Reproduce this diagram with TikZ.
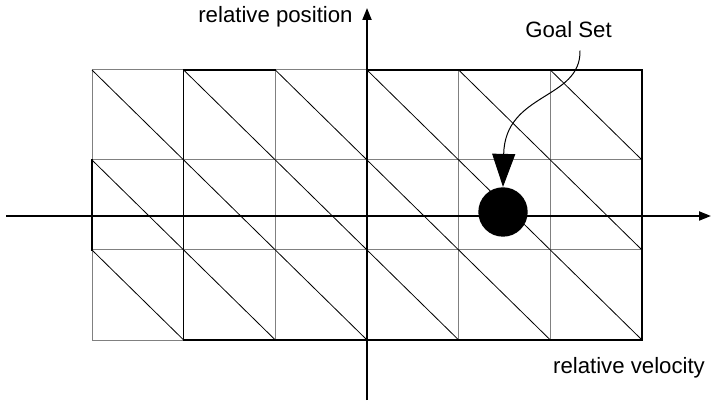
\documentclass[tikz,border=0pt]{standalone}
\usepackage{fontspec}
\setmainfont{Liberation Sans}
\usetikzlibrary{calc,arrows.meta}

\begin{document}
\begin{tikzpicture}[x=0.5pt,y=-0.5pt,
  gridline/.style={draw=black!50, line width=0.5pt},
  diagline/.style={draw=black, line width=0.4pt},
  outline/.style={draw=black, line width=1pt, line cap=rect},
  axis/.style={draw=black, line width=1pt, -{Triangle[length=6pt,width=4.5pt]}},
  axislabel/.style={font=\fontsize{11.1}{13}\selectfont, inner sep=0pt}]

% --- Geometry settings ---
\def\xO{92}       % left edge of the cell grid
\def\yO{70}       % top edge of the cell grid
\def\cellW{91.67} % width of each cell
\def\cellH{90}    % height of each cell

\useasboundingbox (0,0) rectangle (711,405);

% --- Gray cell grid ---
\foreach \i in {0,...,6} {
  \draw[gridline] ({\xO+\i*\cellW},\yO) -- ({\xO+\i*\cellW},{\yO+3*\cellH});
}
\foreach \j in {0,...,3} {
  \draw[gridline] (\xO,{\yO+\j*\cellH}) -- ({\xO+6*\cellW},{\yO+\j*\cellH});
}

% --- Diagonal of each cell ---
\foreach \i in {0,...,5} {
  \foreach \j in {0,...,2} {
    \draw[diagline] ({\xO+\i*\cellW},{\yO+\j*\cellH}) -- ({\xO+(\i+1)*\cellW},{\yO+(\j+1)*\cellH});
  }
}
\draw[diagline] ({\xO+\cellW},\yO) -- ({\xO+\cellW},{\yO+3*\cellH});

% --- Thick boundary pieces ---
\draw[outline] ({\xO+\cellW},\yO) -- ({\xO+2*\cellW},\yO);
\draw[outline] ({\xO+3*\cellW},\yO) -- ({\xO+6*\cellW},\yO)
  -- ({\xO+6*\cellW},{\yO+3*\cellH}) -- ({\xO+\cellW},{\yO+3*\cellH});
\draw[outline] (\xO,{\yO+\cellH}) -- (\xO,{\yO+2*\cellH});

% --- Axes ---
\coordinate (vleft) at (6,216);
\coordinate (vright) at (711,216);
\coordinate (pbottom) at ({\xO+3*\cellW},400);
\coordinate (ptop) at ({\xO+3*\cellW},8);
\draw[axis] (vleft) -- (vright);
\draw[axis] (pbottom) -- (ptop);

\node[axislabel, anchor=base east] (poslabel) at (353,23) {relative position};
\node[axislabel, anchor=base] (vellabel) at (629,373) {relative velocity};

% --- Goal set ---
\node[circle, fill=black, minimum size=24.7pt, inner sep=0pt] (goalset) at (503,212) {};
\node[axislabel, anchor=base] (goal) at (568.5,38) {Goal Set};
\draw[line width=0.5pt, -{Triangle[length=16.5pt,width=11.5pt]}]
  ([xshift=5.75pt,yshift=-6pt]goal.south) .. controls (581,100) and (505,92) .. (goalset.north);

\end{tikzpicture}
\end{document}
